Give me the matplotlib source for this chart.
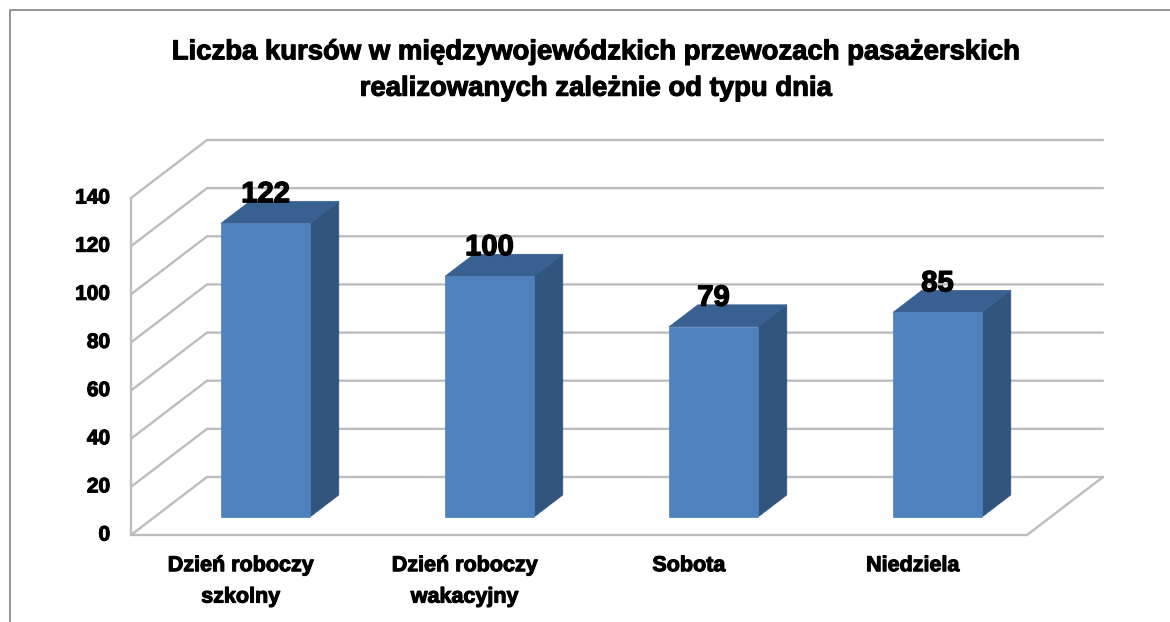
import matplotlib
matplotlib.use("Agg")
import matplotlib.pyplot as plt
import matplotlib.patheffects as pe
from matplotlib.patches import Polygon

plt.rcParams['font.family'] = ['Liberation Sans', 'DejaVu Sans']

title = "Liczba kursów w międzywojewódzkich przewozach pasażerskich\nrealizowanych zależnie od typu dnia"
categories = ["Dzień roboczy\nszkolny", "Dzień roboczy\nwakacyjny", "Sobota", "Niedziela"]
values = [122, 100, 79, 85]
y_ticks = [0, 20, 40, 60, 80, 100, 120, 140]

W, H = 1170, 622
GRID = '#BDBDBD'
FRONT, SIDE, TOP = '#4F81BD', '#31557F', '#386192'

# the axes is the front plane of the 3d box, depth is faked with a shift in data units
left, right, bottom, top = 131, 1027, 535, 198
DEPTH_X = 76 / (right - left) * len(categories)
DEPTH_Y = 58 / (bottom - top) * y_ticks[-1]
BAR_WIDTH = 0.397
BAR_CENTER = 0.495
BAR_NEAR, BAR_FAR = 0.31, 0.69


def project(x, y, d):
    return x + d * DEPTH_X, y + d * DEPTH_Y


fig = plt.figure(figsize=(W / 100, H / 100), dpi=100)
ax = fig.add_axes([left / W, 1 - bottom / H, (right - left) / W, (bottom - top) / H])
ax.set_xlim(0, len(categories))
ax.set_ylim(0, y_ticks[-1])
ax.axis('off')


def line(xs, ys):
    ax.plot(xs, ys, color=GRID, lw=1.7, clip_on=False, solid_capstyle='round', zorder=1)


# walls and floor
for tick in y_ticks:
    back_x0, back_y = project(0, tick, 1)
    back_x1, _ = project(len(categories), tick, 1)
    line([0, back_x0, back_x1], [tick, back_y, back_y])
line([0, 0], [0, y_ticks[-1]])
line([0, len(categories), project(len(categories), 0, 1)[0]], [0, 0, project(0, 0, 1)[1]])

# bars
for i, value in enumerate(values):
    x0 = i + BAR_CENTER - BAR_WIDTH / 2
    x1 = i + BAR_CENTER + BAR_WIDTH / 2
    face = [project(x0, 0, BAR_NEAR), project(x1, 0, BAR_NEAR), project(x1, value, BAR_NEAR), project(x0, value, BAR_NEAR)]
    side = [project(x1, 0, BAR_NEAR), project(x1, 0, BAR_FAR), project(x1, value, BAR_FAR), project(x1, value, BAR_NEAR)]
    roof = [project(x0, value, BAR_NEAR), project(x1, value, BAR_NEAR), project(x1, value, BAR_FAR), project(x0, value, BAR_FAR)]
    ax.add_patch(Polygon(side, facecolor=SIDE, edgecolor=SIDE, lw=0.5, zorder=2, clip_on=False))
    ax.add_patch(Polygon(roof, facecolor=TOP, edgecolor=TOP, lw=0.5, zorder=2, clip_on=False))
    ax.add_patch(Polygon(face, facecolor=FRONT, edgecolor=FRONT, lw=0.5, zorder=3, clip_on=False))
    lx, ly = project(i + BAR_CENTER, value, BAR_NEAR)
    ax.annotate(str(value), (lx, ly), xytext=(0, 21), textcoords='offset points', ha='center', va='center',
                fontsize=21, fontweight='bold', color='black', zorder=5, annotation_clip=False,
                path_effects=[pe.withStroke(linewidth=1.0, foreground='black')])

smear = [pe.withStroke(linewidth=0.8, foreground='black')]

# tick and category labels
for tick in y_ticks:
    ax.annotate(str(tick), (0, tick), xytext=(-15, 0), textcoords='offset points', ha='right', va='center',
                fontsize=15, fontweight='bold', color='black', path_effects=smear, annotation_clip=False)
for i, name in enumerate(categories):
    ax.annotate(name, (i + 0.49, 0), xytext=(0, -14.5), textcoords='offset points', ha='center', va='top',
                fontsize=15.5, fontweight='bold', color='black', linespacing=1.65, path_effects=smear,
                annotation_clip=False)

fig.text(596 / W, 1 - 70.5 / H, title, ha='center', va='center', fontsize=19.8, fontweight='bold', color='black',
         linespacing=1.52, path_effects=smear)

# outer frame of the chart, cut off at the right and at the bottom
fig.add_artist(plt.Line2D([10 / W, 10 / W, 1], [0, 1 - 10 / H, 1 - 10 / H], color='#8C8C8C', lw=1.3))

fig.savefig('out.png', dpi=100)
